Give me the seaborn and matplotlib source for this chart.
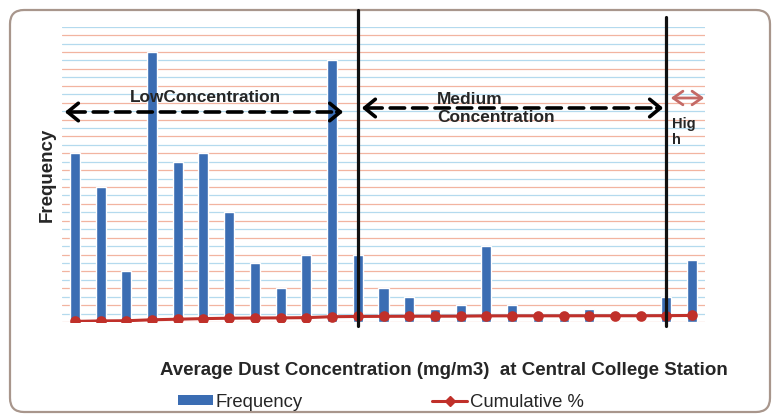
import matplotlib
matplotlib.use("Agg")
import matplotlib.pyplot as plt
import seaborn as sns
import pandas as pd
from matplotlib.patches import FancyBboxPatch, Patch
from matplotlib.lines import Line2D
from matplotlib.transforms import IdentityTransform

# ---- data ----
bins = [str(i) for i in range(1, 26)]
frequency = [20, 16, 6, 32, 19, 20, 13, 7, 4, 8, 31, 8, 4, 3, 1.5, 2, 9, 2, 0.4, 0.4, 1.5, 0, 0, 3, 7.4]
cumulative_pct = [9.2, 16.5, 19.3, 33.9, 42.6, 51.8, 57.7, 60.9, 62.8, 66.5, 80.7, 84.3, 86.2,
                  87.5, 88.2, 89.2, 93.3, 94.2, 94.4, 94.6, 95.3, 95.3, 95.3, 96.6, 100.0]
zone_labels = ["LowConcentration", "Medium\nConcentration", "Hig\nh"]
x_label = "Average Dust Concentration (mg/m3)  at Central College Station"
y_label = "Frequency"
legend_labels = ["Frequency", "Cumulative %"]

df = pd.DataFrame({"bin": bins, "freq": frequency, "cum": cumulative_pct})

sns.set_theme(style="white")
plt.rcParams["font.family"] = ["Liberation Sans", "DejaVu Sans"]

W, H = 777, 415
fig = plt.figure(figsize=(W / 100, H / 100), dpi=100)
fig.patch.set_facecolor("white")

# outer rounded frame
frame = FancyBboxPatch((10, 3), 760, 402, boxstyle="round,pad=0,rounding_size=14",
                       transform=IdentityTransform(), facecolor="none",
                       edgecolor="#a8968c", lw=1.6, zorder=0)
fig.add_artist(frame)

ax = fig.add_axes([62 / W, (H - 322) / H, 643 / W, 295.3 / H])
bar_color = "#3b6db3"
sns.barplot(data=df, x="bin", y="freq", ax=ax, color=bar_color, width=0.39,
            saturation=1, zorder=3)
ax.set_ylim(0, 35)
ax.set_xlim(-0.5, len(bins) - 0.5)
ax.set_yticks(range(0, 36, 2))
ax.set_yticks(range(1, 36, 2), minor=True)
ax.grid(True, axis="y", which="major", color="#f2b4a0", lw=0.9, zorder=0)
ax.grid(True, axis="y", which="minor", color="#b4daee", lw=0.9, zorder=0)
ax.tick_params(axis="both", which="both", length=0, labelleft=False, labelbottom=False)
ax.set_xlabel("")
ax.set_ylabel("")
for s in ax.spines.values():
    s.set_visible(False)

ax2 = ax.twinx()
line_color = "#c0302a"
sns.pointplot(data=df, x="bin", y="cum", ax=ax2, color=line_color, markers="o",
              errorbar=None, markersize=6, linewidth=2.2)
ax2.set_ylim(0, 4500)
ax2.set_xlim(-0.5, len(bins) - 0.5)
ax2.tick_params(axis="both", which="both", length=0, labelright=False, labelbottom=False)
ax2.set_xlabel("")
ax2.set_ylabel("")
for s in ax2.spines.values():
    s.set_visible(False)

# zone divider lines
ax2.axvline(11, ymin=-0.015, ymax=1.058, color="#111111", lw=2.3, clip_on=False)
ax2.axvline(23, ymin=-0.015, ymax=1.034, color="#111111", lw=2.3, clip_on=False)

# zone arrows (figure pixel coordinates)
def dashed_arrow(x1, x2, y):
    yy = H - y
    ax.annotate("", xy=(x2 - 6, yy), xytext=(x1 + 6, yy), xycoords="figure pixels",
                textcoords="figure pixels",
                arrowprops=dict(arrowstyle="-", ls=(0, (4, 2.2)), lw=2.6, color="black"),
                annotation_clip=False)
    for xa, xb in ((x1 + 12, x1), (x2 - 12, x2)):
        ax.annotate("", xy=(xb, yy), xytext=(xa, yy), xycoords="figure pixels",
                    textcoords="figure pixels",
                    arrowprops=dict(arrowstyle="->,head_length=0.55,head_width=0.45",
                                    lw=2.6, color="black", mutation_scale=14),
                    annotation_clip=False)

dashed_arrow(62, 346, 112)
dashed_arrow(359, 666, 108)
ax.annotate("", xy=(707, H - 98), xytext=(668, H - 98), xycoords="figure pixels",
            textcoords="figure pixels",
            arrowprops=dict(arrowstyle="<->,head_length=0.5,head_width=0.35", lw=2.0,
                            color="#c46a66", mutation_scale=14),
            annotation_clip=False)

fig.text(205 / W, 1 - 97 / H, zone_labels[0], ha="center", va="center",
         fontsize=12.4, fontweight="bold")
fig.text(437 / W, 1 - 108.5 / H, zone_labels[1], ha="left", va="center",
         fontsize=12.5, fontweight="bold", linespacing=1.25)
fig.text(672 / W, 1 - 132 / H, zone_labels[2], ha="left", va="center",
         fontsize=10.5, fontweight="bold", linespacing=1.2)

fig.text(47 / W, 1 - 175 / H, y_label, rotation=90, ha="center", va="center",
         fontsize=13.5, fontweight="bold")
fig.text(444 / W, 1 - 370 / H, x_label, ha="center", va="center",
         fontsize=13.5, fontweight="bold")

handles = [Patch(facecolor=bar_color, edgecolor="none"),
           Line2D([0], [0], color=line_color, lw=2.2, marker="D", markersize=5)]
fig.legend(handles, legend_labels, loc="center", bbox_to_anchor=(381 / W, 1 - 402 / H),
           ncol=2, frameon=False, columnspacing=7.0, handlelength=1.9, handletextpad=0.15,
           handleheight=0.5, prop={"family": "Liberation Sans", "size": 13.3})

fig.savefig("out.png", dpi=100)
